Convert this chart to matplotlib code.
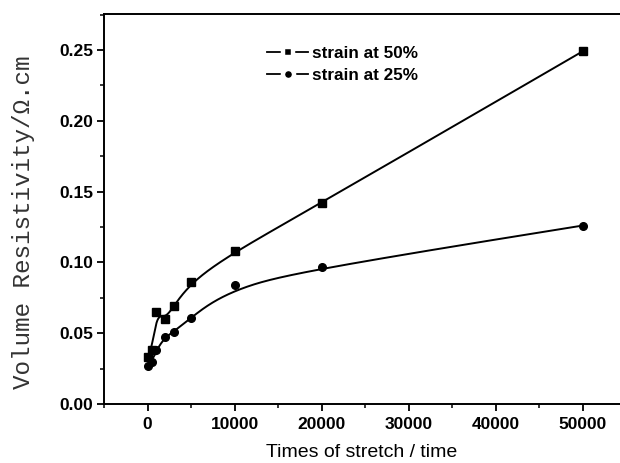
import numpy as np
import matplotlib
matplotlib.use("Agg")
import matplotlib.pyplot as plt
from matplotlib.ticker import MultipleLocator
from matplotlib.lines import Line2D

# Data
stretch_times = [0, 500, 1000, 2000, 3000, 5000, 10000, 20000, 50000]
strain50 = [0.033, 0.038, 0.065, 0.060, 0.069, 0.086, 0.108, 0.142, 0.249]
strain25 = [0.027, 0.030, 0.038, 0.047, 0.051, 0.061, 0.084, 0.0965, 0.126]
series_labels = ["strain at 50%", "strain at 25%"]
x_ticks = [0, 10000, 20000, 30000, 40000, 50000]
y_ticks = [0.00, 0.05, 0.10, 0.15, 0.20, 0.25]


def bspline(xs, ys, n=600):
    """Clamped uniform cubic B-spline using the points as control points."""
    P = np.column_stack([xs, ys]).astype(float)
    k = 3
    m = len(P)
    inner = np.arange(1, m - k) / (m - k)
    knots = np.concatenate([np.zeros(k + 1), inner, np.ones(k + 1)])
    ts = np.linspace(0, 1, n)
    out = []
    for t in ts:
        if t >= 1.0:
            span = m - 1
        else:
            span = np.searchsorted(knots, t, side="right") - 1
        d = [P[j + span - k].copy() for j in range(k + 1)]
        for r in range(1, k + 1):
            for j in range(k, r - 1, -1):
                i = j + span - k
                denom = knots[i + k + 1 - r] - knots[i]
                a = 0.0 if denom == 0 else (t - knots[i]) / denom
                d[j] = (1 - a) * d[j - 1] + a * d[j]
        out.append(d[k])
    out = np.array(out)
    return out[:, 0], out[:, 1]


fig = plt.figure(figsize=(6.2, 4.63), dpi=100)
ax = fig.add_axes([104 / 620, 59 / 463, 1 - 104 / 620, 390 / 463])

for ys, mk in [(strain50, "s"), (strain25, "o")]:
    cx, cy = bspline(stretch_times, ys)
    ax.plot(cx, cy, color="black", lw=1.4, zorder=2)
    ax.plot(stretch_times, ys, linestyle="none", marker=mk, ms=5.5,
            color="black", zorder=3)

handles = [Line2D([], [], color="black", lw=1.3, marker="s", ms=7.2,
                  markerfacecolor="black", markeredgecolor="white", markeredgewidth=3.2),
           Line2D([], [], color="black", lw=1.3, marker="o", ms=8.0,
                  markerfacecolor="black", markeredgecolor="white", markeredgewidth=3.2)]
ax.legend(handles, series_labels, loc="upper left", bbox_to_anchor=(0.293, 0.948),
          frameon=False, handlelength=2.4, handletextpad=0.2, labelspacing=0.42,
          borderpad=0.2,
          prop={"family": "Liberation Sans", "weight": "bold", "size": 12.3})

ax.set_xlim(-5000, 54300)
ax.set_ylim(0, 0.2754)
ax.set_xticks(x_ticks)
ax.set_yticks(y_ticks)
ax.xaxis.set_minor_locator(MultipleLocator(5000))
ax.yaxis.set_minor_locator(MultipleLocator(0.025))
ax.set_xticklabels([str(v) for v in x_ticks], fontfamily="Liberation Sans",
                   fontweight="bold", fontsize=12.5)
ax.set_yticklabels([f"{v:.2f}" for v in y_ticks], fontfamily="Liberation Sans",
                   fontweight="bold", fontsize=12.5)
ax.tick_params(which="major", direction="out", length=5.2, width=1.3)
ax.tick_params(axis="x", which="major", pad=4.5)
ax.tick_params(axis="y", which="major", pad=2.5)
ax.tick_params(which="minor", direction="out", length=3, width=1.1)
ax.tick_params(top=False, right=False, which="both")
for s in ["left", "bottom", "top"]:
    ax.spines[s].set_linewidth(1.4)
ax.spines["right"].set_visible(False)

ax.set_xlabel("Times of stretch / time", fontfamily="Liberation Sans",
              fontsize=14, labelpad=8)
ax.set_ylabel("Volume Resistivity/Ω.cm", fontfamily="Liberation Mono",
              fontsize=17.5, color="#333333")
ax.yaxis.set_label_coords(-0.134, 0.467)

fig.savefig("out.png", dpi=100)
